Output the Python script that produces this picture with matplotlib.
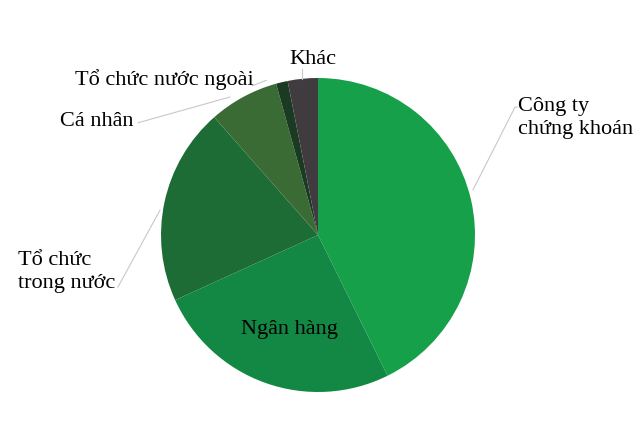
import matplotlib.pyplot as plt

labels = ['Công ty\nchứng khoán', 'Ngân hàng', 'Tổ chức\ntrong nước', 'Cá nhân',
          'Tổ chức nước ngoài', 'Khác']
shares = [42.7, 25.5, 20.3, 7.2, 1.2, 3.1]
colors = ['#16A04A', '#138845', '#1D6B35', '#3A6B34', '#1B3A22', '#3F3B3F']

plt.rcParams['font.family'] = ['Liberation Serif', 'DejaVu Serif']

fig = plt.figure(figsize=(6.4, 4.21), dpi=100)
ax = fig.add_axes([0.2516, 0.0689, 0.4906, 0.7458])
ax.pie(shares, colors=colors, startangle=90, counterclock=False, radius=1,
       wedgeprops=dict(linewidth=0))
ax.set_xlim(-1, 1)
ax.set_ylim(-1, 1)
ax.set_aspect('equal')
ax.axis('off')

line_kw = dict(color='#C8C8C8', lw=0.8, clip_on=False)
fs = 16

# Công ty chứng khoán
ax.plot([0.987, 1.255, 1.27], [0.287, 0.815, 0.815], **line_kw)
ax.text(1.274, 0.88, labels[0], ha='left', va='top', fontsize=fs, linespacing=1.3)

# Ngân hàng (inside)
ax.text(-0.18, -0.6, labels[1], ha='center', va='center', fontsize=fs)

# Tổ chức trong nước
ax.plot([-1.274, -1.006], [-0.331, 0.159], **line_kw)
ax.text(-1.911, -0.1, labels[2], ha='left', va='top', fontsize=fs, linespacing=1.3)

# Cá nhân
ax.plot([-1.146, -0.561], [0.715, 0.879], **line_kw)
ax.text(-1.643, 0.72, labels[3], ha='left', va='center', fontsize=fs)

# Tổ chức nước ngoài
ax.plot([-0.42, -0.33], [0.95, 0.985], **line_kw)
ax.text(-1.548, 0.99, labels[4], ha='left', va='center', fontsize=fs)

# Khác
ax.plot([-0.102, -0.102], [1.06, 0.995], **line_kw)
ax.text(-0.03, 1.12, labels[5], ha='center', va='center', fontsize=fs)

fig.savefig('out.png', dpi=100)
